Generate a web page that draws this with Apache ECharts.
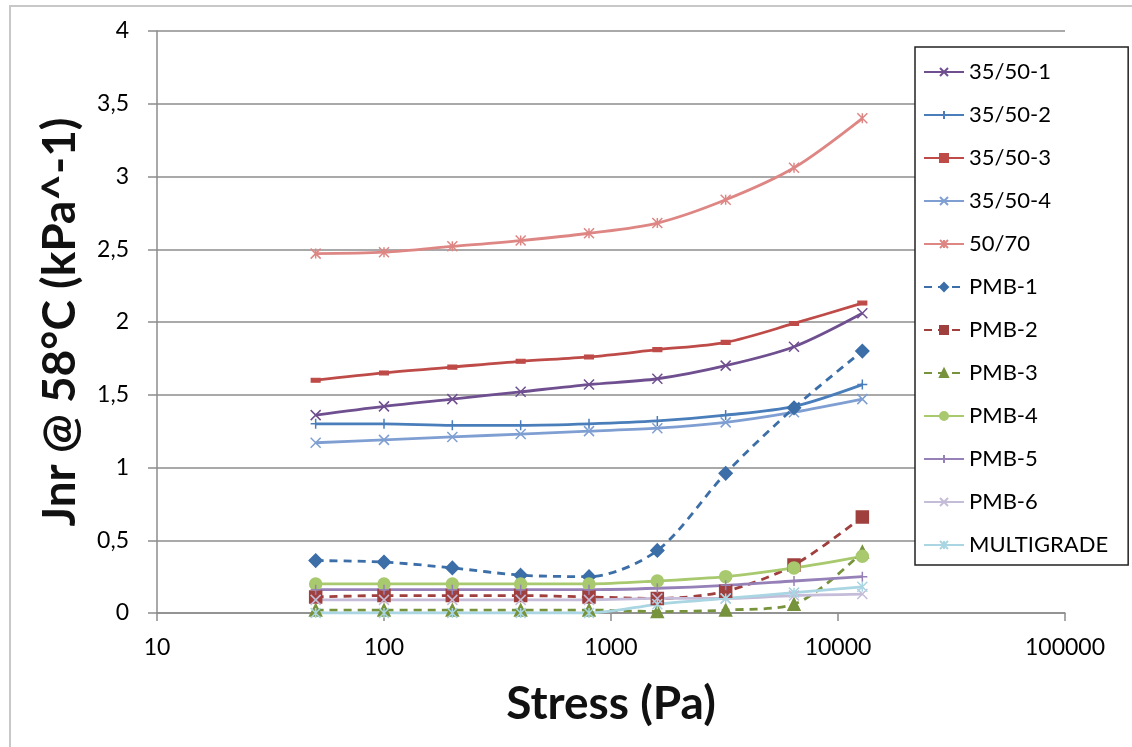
<!DOCTYPE html>
<html>
	<head>
		<meta charset="utf-8">
		<title>Jnr @ 58°C</title>
		<script src="https://cdn.jsdelivr.net/npm/echarts@6/dist/echarts.min.js"></script>
		<style>
			html, body { margin: 0; padding: 0; background: #fff; }
			#main { width: 1132px; height: 747px; }
		</style>
	</head>
	<body>
		<div id="main"></div>
		<script>
			// stress levels (Pa)
			var stress = [50, 100, 200, 400, 800, 1600, 3200, 6400, 12800];

			var names = ['35/50-1', '35/50-2', '35/50-3', '35/50-4', '50/70', 'PMB-1', 'PMB-2', 'PMB-3', 'PMB-4', 'PMB-5', 'PMB-6', 'MULTIGRADE'];

			// Jnr values
			var b3550_1 = [1.36, 1.42, 1.47, 1.52, 1.57, 1.61, 1.70, 1.83, 2.06];
			var b3550_2 = [1.30, 1.30, 1.29, 1.29, 1.30, 1.32, 1.36, 1.42, 1.57];
			var b3550_3 = [1.60, 1.65, 1.69, 1.73, 1.76, 1.81, 1.86, 1.99, 2.13];
			var b3550_4 = [1.17, 1.19, 1.21, 1.23, 1.25, 1.27, 1.31, 1.38, 1.47];
			var b5070   = [2.47, 2.48, 2.52, 2.56, 2.61, 2.68, 2.84, 3.06, 3.40];
			var pmb1    = [0.36, 0.35, 0.31, 0.26, 0.25, 0.43, 0.96, 1.41, 1.80];
			var pmb2    = [0.11, 0.12, 0.12, 0.12, 0.11, 0.10, 0.15, 0.33, 0.66];
			var pmb3    = [0.02, 0.02, 0.02, 0.02, 0.02, 0.01, 0.02, 0.06, 0.42];
			var pmb4    = [0.20, 0.20, 0.20, 0.20, 0.20, 0.22, 0.25, 0.31, 0.39];
			var pmb5    = [0.16, 0.16, 0.16, 0.16, 0.16, 0.17, 0.19, 0.22, 0.25];
			var pmb6    = [0.09, 0.09, 0.09, 0.09, 0.09, 0.10, 0.10, 0.12, 0.13];
			var multi   = [0.00, 0.00, 0.00, 0.00, 0.00, 0.06, 0.10, 0.14, 0.18];

			var colors = ['#6f4f8f', '#4a7ebb', '#be4b48', '#7f9fd3', '#de8684', '#3c6ea8', '#a0403e', '#77933c', '#a8c96e', '#9580b8', '#c5bcd9', '#a9d6e2'];

			var X = 'path://M0,0L10,10M10,0L0,10';
			var PLUS = 'path://M5,0L5,10M0,5L10,5';
			var STAR = 'path://M0,0L10,10M10,0L0,10M5,0L5,10';
			var symbols = [X, PLUS, 'rect', X, STAR, 'diamond', 'rect', 'triangle', 'circle', PLUS, X, STAR];
			var sizes = [10, 10, [8, 4], 10, 10, 13, 12, 12, 12, 10, 10, 10];
			var dashed = [false, false, false, false, false, true, true, true, false, false, false, false];
			var data = [b3550_1, b3550_2, b3550_3, b3550_4, b5070, pmb1, pmb2, pmb3, pmb4, pmb5, pmb6, multi];

			var series = [];
			for (var i = 0; i < names.length; i++) {
				var pts = [];
				for (var j = 0; j < stress.length; j++) {
					pts.push([stress[j], data[i][j]]);
				}
				series.push({
					name: names[i],
					type: 'line',
					smooth: 0.3,
					data: pts,
					symbol: symbols[i],
					symbolSize: sizes[i],
					lineStyle: { color: colors[i], width: 2.8, type: dashed[i] ? [8, 6] : 'solid' },
					itemStyle: { color: colors[i], borderColor: colors[i], borderWidth: 1.5 }
				});
			}

			var chart = echarts.init(document.getElementById('main'));
			chart.setOption({
				animation: false,
				color: colors,
				textStyle: { fontFamily: 'Lato' },
				graphic: [{
					type: 'rect',
					shape: { x: 10, y: 6, width: 1130, height: 750 },
					style: { fill: 'none', stroke: '#c8c8c8', lineWidth: 2 },
					z: -10
				}],
				grid: { left: 157, right: 67, top: 31, bottom: 134 },
				legend: {
					orient: 'vertical',
					left: 915,
					top: 47,
					padding: [14, 20, 9, 8],
					itemGap: 21,
					itemWidth: 40,
					itemHeight: 10,
					backgroundColor: '#fff',
					borderColor: '#222',
					borderWidth: 1.5,
					textStyle: { fontFamily: 'Lato', fontSize: 22, lineHeight: 22, color: '#000' },
					data: names
				},
				xAxis: {
					type: 'log',
					logBase: 10,
					min: 10,
					max: 100000,
					name: 'Stress (Pa)',
					nameLocation: 'middle',
					nameGap: 68,
					nameMoveOverlap: false,
					nameTextStyle: { fontSize: 46, fontWeight: 'bold', color: '#111' },
					axisLine: { lineStyle: { color: '#8c8c8c', width: 1.5 } },
					axisTick: { length: 8, lineStyle: { color: '#8c8c8c', width: 1.5 } },
					axisLabel: {
						fontSize: 23, color: '#000', margin: 23,
						formatter: function (v) { return String(v); }
					},
					splitLine: { show: false },
					minorTick: { show: false }
				},
				yAxis: {
					type: 'value',
					min: 0,
					max: 4,
					interval: 0.5,
					name: 'Jnr @ 58°C (kPa^-1)',
					nameLocation: 'middle',
					nameRotate: 90,
					nameGap: 74,
					nameMoveOverlap: false,
					nameTextStyle: { fontSize: 46, fontWeight: 'bold', color: '#111' },
					axisLine: { show: true, lineStyle: { color: '#8c8c8c', width: 1.5 } },
					axisTick: { show: true, length: 9, lineStyle: { color: '#8c8c8c', width: 1.5 } },
					axisLabel: {
						fontSize: 23, color: '#000', margin: 28,
						formatter: function (v) { return String(v).replace('.', ','); }
					},
					splitLine: { lineStyle: { color: '#8c8c8c', width: 1.5 } }
				},
				series: series
			});
		</script>
	</body>
</html>
